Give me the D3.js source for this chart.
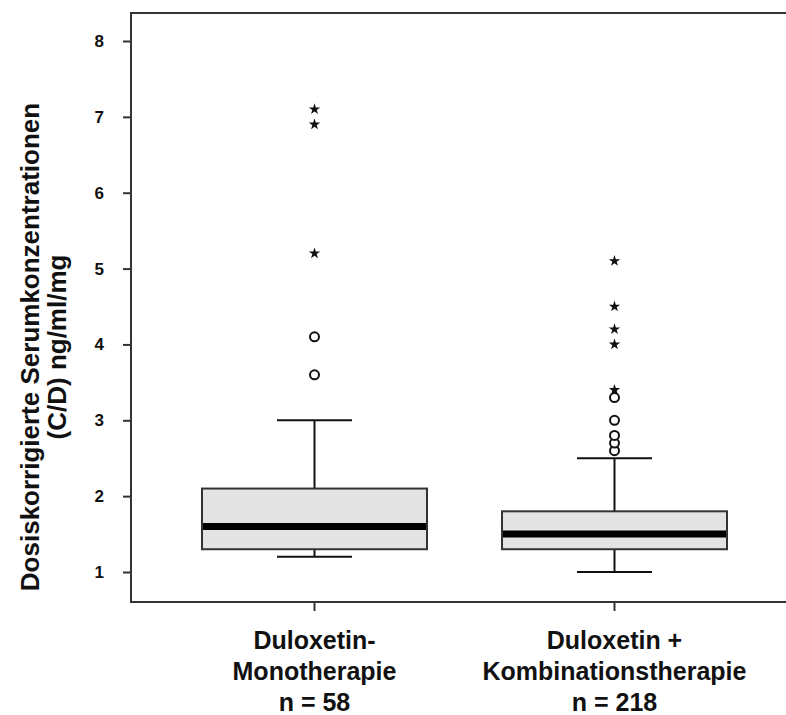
<!DOCTYPE html>
<html>
<head>
<meta charset="utf-8">
<script src="https://cdn.jsdelivr.net/npm/d3@7"></script>
<style>
  html, body { margin: 0; padding: 0; background: #fff; }
  svg { display: block; }
  text { font-family: "Liberation Sans", Arial, sans-serif; font-weight: bold; fill: #111; }
</style>
</head>
<body>
<svg id="chart" width="786" height="715"></svg>
<script>
// Groups and their label lines
const groups = ["mono", "kombi"];
const groupLabels = [
  ["Duloxetin-", "Monotherapie", "n = 58"],
  ["Duloxetin +", "Kombinationstherapie", "n = 218"]
];

// Box statistics per group (C/D, ng/ml/mg)
const whiskerLow  = [1.2, 1.0];
const quartile1   = [1.3, 1.3];
const medians     = [1.6, 1.5];
const quartile3   = [2.1, 1.8];
const whiskerHigh = [3.0, 2.5];

// Outliers (circles) and extreme values (stars)
const outliersMono   = [3.6, 4.1];
const extremesMono   = [5.2, 6.9, 7.1];
const outliersKombi  = [2.6, 2.7, 2.8, 3.0, 3.3];
const extremesKombi  = [3.4, 4.0, 4.2, 4.5, 5.1];

const yTicks = [1, 2, 3, 4, 5, 6, 7, 8];

const svg = d3.select("#chart");

const plotLeft = 131;
const y = d3.scaleLinear().domain([1, 8]).range([572, 41]);
const yBottom = y(0.605), yTop = y(8.37);

const x = d3.scalePoint().domain(groups).range([314.5, 614.5]);
const boxW = 225, capW = 75;

// frame: top line
svg.append("line").attr("x1", plotLeft).attr("x2", 786).attr("y1", yTop).attr("y2", yTop)
  .attr("stroke", "#333").attr("stroke-width", 2);

// y axis
const yAxis = d3.axisLeft(y).tickValues(yTicks).tickSize(8).tickPadding(19).tickFormat(d3.format("d"));
const gy = svg.append("g").attr("transform", `translate(${plotLeft},0)`).call(yAxis);
gy.select(".domain").remove();
gy.selectAll(".tick line").attr("stroke", "#333").attr("stroke-width", 2);
gy.selectAll(".tick text").attr("font-size", 17).attr("font-family", "Liberation Sans, Arial, sans-serif")
  .attr("font-weight", "bold").attr("fill", "#111");
svg.append("line").attr("x1", plotLeft).attr("x2", plotLeft).attr("y1", yTop - 1).attr("y2", yBottom + 1)
  .attr("stroke", "#333").attr("stroke-width", 2);

// x axis
svg.append("line").attr("x1", plotLeft - 1).attr("x2", 786).attr("y1", yBottom).attr("y2", yBottom)
  .attr("stroke", "#333").attr("stroke-width", 2);
groups.forEach(g => {
  svg.append("line").attr("x1", x(g)).attr("x2", x(g)).attr("y1", yBottom).attr("y2", yBottom + 9)
    .attr("stroke", "#333").attr("stroke-width", 2);
});

// boxes
const outliers = [outliersMono, outliersKombi];
const extremes = [extremesMono, extremesKombi];
groups.forEach((g, i) => {
  const c = x(g);
  const gg = svg.append("g");
  // whiskers
  gg.append("line").attr("x1", c).attr("x2", c).attr("y1", y(quartile3[i])).attr("y2", y(whiskerHigh[i]))
    .attr("stroke", "#111").attr("stroke-width", 2);
  gg.append("line").attr("x1", c).attr("x2", c).attr("y1", y(quartile1[i])).attr("y2", y(whiskerLow[i]))
    .attr("stroke", "#111").attr("stroke-width", 2);
  [whiskerHigh[i], whiskerLow[i]].forEach(v => {
    gg.append("line").attr("x1", c - capW / 2).attr("x2", c + capW / 2).attr("y1", y(v)).attr("y2", y(v))
      .attr("stroke", "#111").attr("stroke-width", 2);
  });
  // box
  gg.append("rect").attr("x", c - boxW / 2).attr("width", boxW)
    .attr("y", y(quartile3[i])).attr("height", y(quartile1[i]) - y(quartile3[i]))
    .attr("fill", "#e3e3e3").attr("stroke", "#333").attr("stroke-width", 2);
  // median
  gg.append("line").attr("x1", c - boxW / 2 + 1).attr("x2", c + boxW / 2 - 1)
    .attr("y1", y(medians[i])).attr("y2", y(medians[i]))
    .attr("stroke", "#000").attr("stroke-width", 7);
  // outliers
  gg.selectAll("circle.out").data(outliers[i]).join("circle").attr("class", "out")
    .attr("cx", c).attr("cy", d => y(d)).attr("r", 4.5)
    .attr("fill", "#fff").attr("stroke", "#111").attr("stroke-width", 2);
  // extremes
  gg.selectAll("path.ext").data(extremes[i]).join("path").attr("class", "ext")
    .attr("d", d3.symbol().type(d3.symbolStar).size(40))
    .attr("transform", d => `translate(${c},${y(d)})`)
    .attr("fill", "#111");
  // category labels
  const t = svg.append("text").attr("text-anchor", "middle").attr("font-size", 25);
  groupLabels[i].forEach((s, k) => {
    t.append("tspan").attr("x", c).attr("y", 649 + k * 31).text(s);
  });
});

// y title
const yt = svg.append("text").attr("text-anchor", "middle").attr("font-size", 26)
  .attr("transform", `translate(0,347) rotate(-90)`);
yt.append("tspan").attr("x", 0).attr("y", 39).text("Dosiskorrigierte Serumkonzentrationen");
yt.append("tspan").attr("x", 0).attr("y", 66).text("(C/D) ng/ml/mg");
</script>
</body>
</html>
